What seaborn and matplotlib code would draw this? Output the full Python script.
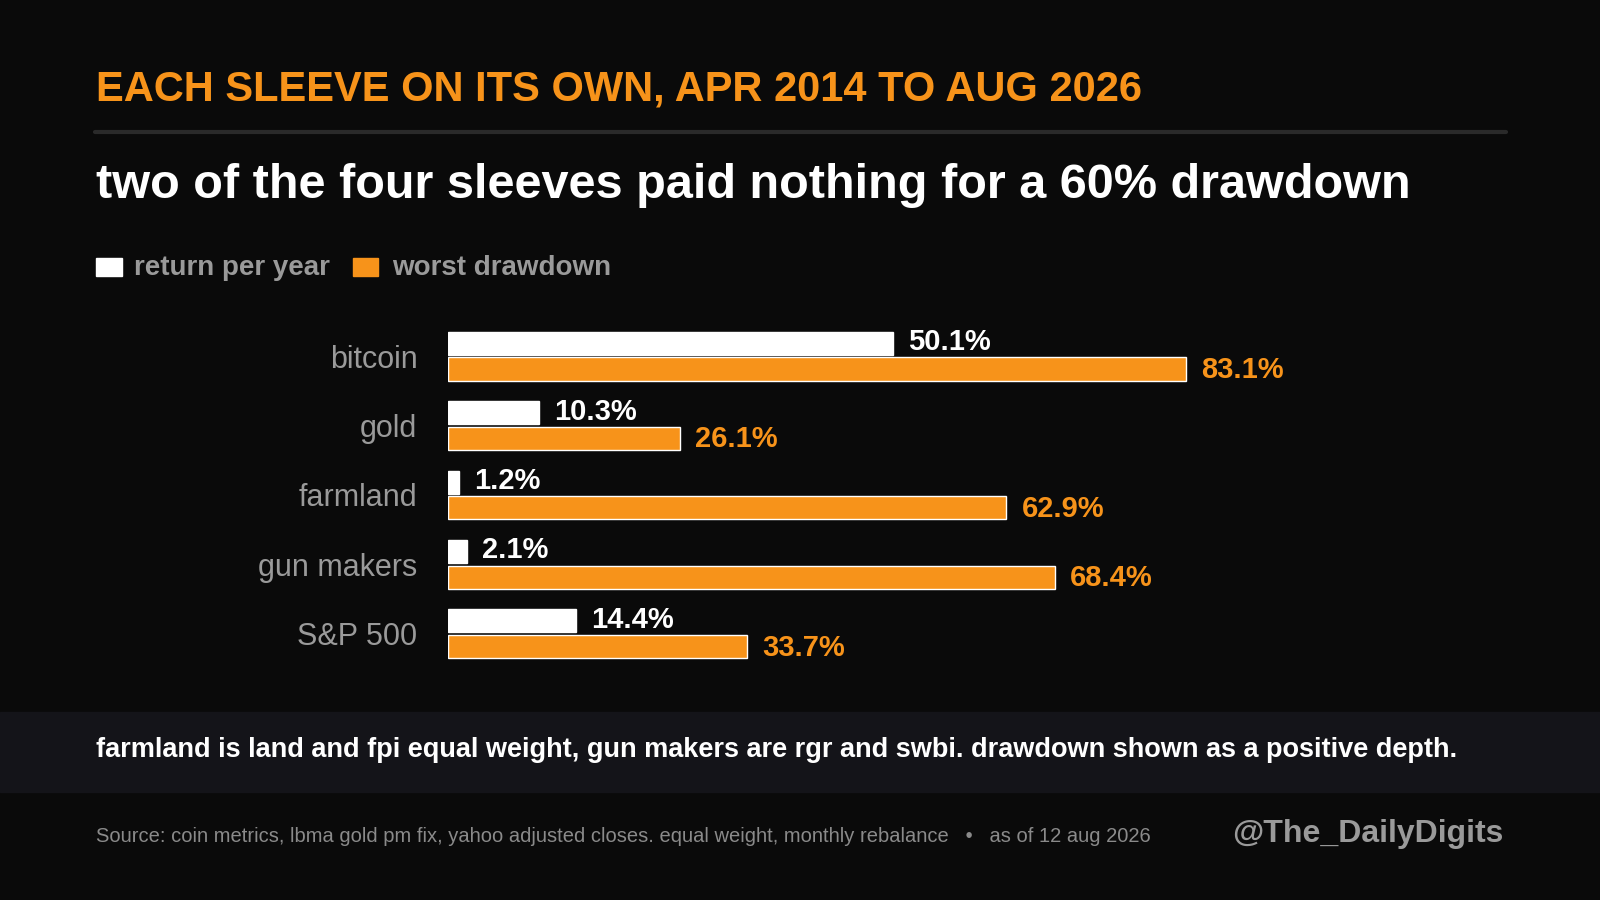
import matplotlib
matplotlib.use("Agg")
import matplotlib.pyplot as plt
import pandas as pd
import seaborn as sns
from matplotlib.patches import Rectangle

sleeves = ["bitcoin", "gold", "farmland", "gun makers", "S&P 500"]
return_per_year = [50.1, 10.3, 1.2, 2.1, 14.4]
worst_drawdown = [83.1, 26.1, 62.9, 68.4, 33.7]

BG = "#0a0a0a"
ORANGE = "#f7931a"
GRAY = "#9a9a9a"

df = pd.DataFrame({
    "sleeve": sleeves * 2,
    "value": return_per_year + worst_drawdown,
    "metric": ["return per year"] * 5 + ["worst drawdown"] * 5,
})

sns.set_theme(style="dark")
plt.rcParams["font.family"] = ["Liberation Sans", "DejaVu Sans"]

W, H = 1568, 882
fig = plt.figure(figsize=(16, 9), dpi=100, facecolor=BG)
ax = fig.add_axes([439 / W, 1 - 655 / H, (1474 - 439) / W, 340 / H])
ax.set_facecolor(BG)

sns.barplot(data=df, y="sleeve", x="value", hue="metric", orient="h",
            palette=["white", ORANGE], width=0.74, gap=0.1, saturation=1,
            legend=False, ax=ax)
ax.set_xlim(0, (1474 - 439) / 8.7)
ax.set_ylim(4.5, -0.5)
ax.set_xlabel("")
ax.set_ylabel("")
ax.set_xticks([])
ax.tick_params(axis="y", length=0, pad=22, labelsize=22, labelcolor=GRAY)
for s in ax.spines.values():
    s.set_visible(False)

for i in range(5):
    ax.text(return_per_year[i] + 1.7, i - 0.2, f"{return_per_year[i]}%", color="white",
            fontsize=21, fontweight="bold", va="center")
    ax.text(worst_drawdown[i] + 1.7, i + 0.2, f"{worst_drawdown[i]}%", color=ORANGE,
            fontsize=21, fontweight="bold", va="center")

def fx(x):
    return x / W

def fy(y):
    return 1 - y / H

fig.text(fx(94), fy(88), "EACH SLEEVE ON ITS OWN, APR 2014 TO AUG 2026", color=ORANGE,
         fontsize=30, fontweight="bold", va="center")
fig.add_artist(plt.Line2D([fx(93), fx(1476)], [fy(129), fy(129)], color="#2a2a2a", lw=3))
fig.text(fx(94), fy(182), "two of the four sleeves paid nothing for a 60% drawdown", color="white",
         fontsize=35, fontweight="bold", va="center")

fig.add_artist(Rectangle((fx(94), fy(270)), fx(26), 17 / H, color="white", transform=fig.transFigure))
fig.text(fx(131), fy(263), "return per year", color=GRAY, fontsize=20, fontweight="bold", va="center")
fig.add_artist(Rectangle((fx(346), fy(270)), fx(24), 17 / H, color=ORANGE, transform=fig.transFigure))
fig.text(fx(384), fy(263), "worst drawdown", color=GRAY, fontsize=20, fontweight="bold", va="center")

fig.add_artist(Rectangle((0, fy(776)), 1, 78 / H, color="#141419", transform=fig.transFigure))
fig.text(fx(94), fy(735), "farmland is land and fpi equal weight, gun makers are rgr and swbi. drawdown shown as a positive depth.",
         color="white", fontsize=19.5, fontweight="bold", va="center")

fig.text(fx(94), fy(820), "Source: coin metrics, lbma gold pm fix, yahoo adjusted closes. equal weight, monthly rebalance   \u2022   as of 12 aug 2026",
         color="#8a8a8a", fontsize=14.5, va="center")
fig.text(fx(1473), fy(817), "@The_DailyDigits", color=GRAY, fontsize=23, fontweight="bold",
         va="center", ha="right")

fig.savefig("out.png", facecolor=BG)
